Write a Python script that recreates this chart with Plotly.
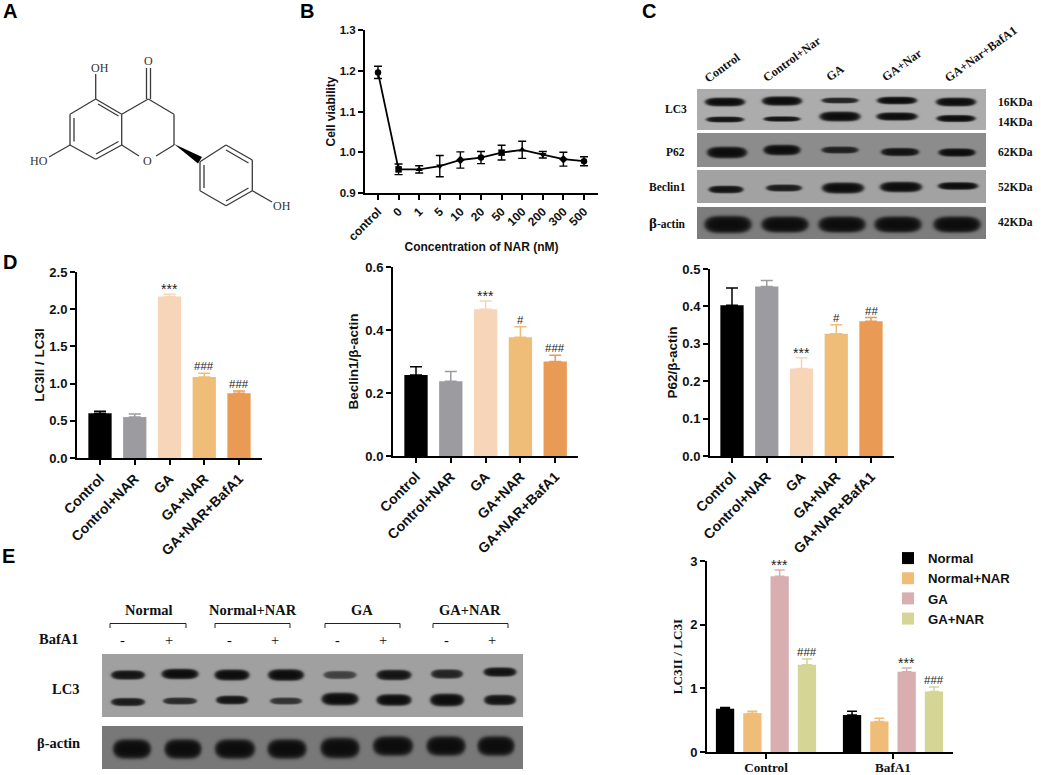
import numpy as np
import plotly.graph_objects as go

W, H = 1052, 775
SANS = "Liberation Sans"
SERIF = "Liberation Serif"

# ---------- data ----------
viability_cats = ["control", "0", "1", "5", "10", "20", "50", "100", "200", "300", "500"]
viability_vals = [1.196, 0.958, 0.958, 0.966, 0.981, 0.987, 0.999, 1.006, 0.994, 0.983, 0.978]
viability_errs = [0.015, 0.013, 0.009, 0.026, 0.020, 0.015, 0.018, 0.021, 0.008, 0.017, 0.011]
viability_syms = ["circle", "square", "triangle-up", "triangle-down", "diamond", "circle",
                  "square", "triangle-up", "triangle-down", "diamond", "circle"]

groups = ["Control", "Control+NAR", "GA", "GA+NAR", "GA+NAR+BafA1"]
group_colors = ["#000000", "#9c9ca0", "#f6d5b8", "#efbd77", "#e99a55"]

lc3_vals = [0.60, 0.55, 2.17, 1.09, 0.87]
lc3_errs = [0.03, 0.04, 0.03, 0.05, 0.03]
lc3_sig = ["", "", "***", "###", "###"]

beclin_vals = [0.257, 0.237, 0.466, 0.377, 0.300]
beclin_errs = [0.026, 0.031, 0.026, 0.033, 0.020]
beclin_sig = ["", "", "***", "#", "###"]

p62_vals = [0.403, 0.453, 0.234, 0.327, 0.360]
p62_errs = [0.046, 0.016, 0.029, 0.024, 0.010]
p62_sig = ["", "", "***", "#", "##"]

e_cats = ["Control", "BafA1"]
e_series = ["Normal", "Normal+NAR", "GA", "GA+NAR"]
e_colors = ["#000000", "#efbd77", "#d9aeb0", "#d5d596"]
e_vals = [[0.68, 0.58], [0.61, 0.48], [2.76, 1.26], [1.37, 0.95]]
e_errs = [[0.02, 0.06], [0.03, 0.05], [0.10, 0.06], [0.09, 0.07]]
e_sig = [["", ""], ["", ""], ["***", "***"], ["###", "###"]]

# Western-blot band readings: lane centre, row centre, length, thickness, strength
c_strips = [
    dict(box=(697, 89, 986, 130), bg=172, bands=[
        (724, 101, 39, 7.5, 1.0), (781, 100, 39, 8, 1.0), (839, 99.5, 36, 5, .85), (896, 99.5, 39, 6.5, 1.0), (955, 101, 39, 7.5, 1.0),
        (724, 118.5, 37, 5, .95), (781, 118, 36, 4.5, .95), (839, 115.5, 40, 8.5, 1.0), (896, 115.5, 40, 7, 1.0), (955, 117.5, 38, 6, 1.0)]),
    dict(box=(697, 133, 986, 167), bg=140, bands=[
        (726, 151.5, 39, 10, 1.0), (781, 149, 36, 9, 1.0), (839, 149, 36, 6, .85), (899, 151, 37, 7, .95), (956, 151.5, 36, 7, 1.0)]),
    dict(box=(697, 170, 986, 203), bg=162, bands=[
        (725, 188.5, 34, 6.5, .95), (783, 187, 35, 6, .9), (842, 187, 41, 9.5, 1.0), (900, 186, 41, 9, 1.0), (957, 185, 39, 6.5, 1.0)]),
    dict(box=(697, 207, 986, 239), bg=125, bands=[
        (727, 223.5, 46, 15, 1.0), (784, 223.5, 46, 14, 1.0), (841, 223.5, 46, 14, 1.0), (897, 223.5, 46, 14, 1.0), (956, 223.5, 46, 14, 1.0)]),
]
e_strips = [
    dict(box=(102, 654, 523, 717), bg=160, bands=[
        (127, 674, 33, 8, .95), (179, 673, 36, 9, 1.0), (231, 674, 34, 9.5, 1.0), (285, 674, 35, 10, 1.0),
        (339, 674, 32, 7, .65), (393, 674, 34, 9, .95), (446, 673, 31, 8, .85), (499, 671, 32, 8, .95),
        (127, 701, 33, 7, .9), (179, 700, 33, 6, .8), (231, 699, 31, 7.5, .95), (285, 700, 31, 6, .75),
        (339, 698, 36, 11, 1.0), (393, 699, 34, 10, 1.0), (446, 699, 33, 11, 1.0), (499, 699, 31, 9, .95)]),
    dict(box=(102, 726, 523, 769), bg=120, bands=[
        (131, 748, 37, 17, 1.0), (182, 748, 36, 17, 1.0), (234, 748, 39, 17, 1.0), (286, 748, 38, 17, 1.0),
        (339, 747, 38, 18, 1.0), (392, 745, 39, 17, 1.0), (445, 745, 38, 17, 1.0), (495, 745, 36, 17, 1.0)]),
]


def px_x(a, b):
    return [a / W, b / W]


def px_y(top, bottom):
    return [1 - bottom / H, 1 - top / H]


fig = go.Figure()
annotations = []
shapes = []


def note(x, y, text, size=12, family=SERIF, bold=True, angle=0, color="#111111",
         xref="x", yref="y", xanchor="center", yanchor="middle", yshift=0):
    annotations.append(dict(x=x, y=y, xref=xref, yref=yref, text=text, showarrow=False,
                            textangle=angle, xanchor=xanchor, yanchor=yanchor, yshift=yshift,
                            font=dict(family=family, size=size, color=color,
                                      weight=700 if bold else 400)))


def sig_note(x, y, text, xref, yref):
    star = text[0] == "*"
    note(x, y, text, 14 if star else 11.5, SANS, bold=False, color="#222222",
         xref=xref, yref=yref, yanchor="bottom", yshift=-5 if star else -1)


# ---------- pixel-space layer: blots, structure, free labels ----------
fig.update_layout(xaxis=dict(domain=[0, 1], range=[0, W], visible=False, fixedrange=True),
                  yaxis=dict(domain=[0, 1], range=[H, 0], visible=False, fixedrange=True))


def add_strip(strip):
    x0, y0, x1, y1 = strip["box"]
    xs = np.arange(x0, x1) + 0.5
    ys = np.arange(y0, y1) + 0.5
    xx, yy = np.meshgrid(xs, ys)
    z = np.full(xx.shape, float(strip["bg"]))
    for cx, cy, length, thick, strength in strip["bands"]:
        d = np.abs((xx - cx) / (length / 2)) ** 4 + np.abs((yy - cy) / (thick * 0.55)) ** 2
        a = strength / (1 + np.exp((d - 1) * 4.0))
        z = z * (1 - a) + 10 * a
    fig.add_trace(go.Heatmap(x=xs, y=ys, z=z, zmin=0, zmax=255, zsmooth="best", showscale=False,
                             colorscale=[[0, "#000000"], [1, "#ffffff"]], hoverinfo="skip",
                             xaxis="x", yaxis="y"))


for s in c_strips + e_strips:
    add_strip(s)

# naringenin skeletal formula
bond = dict(type="line", xref="x", yref="y", line=dict(color="#3a3a3a", width=1.3))
struct_bonds = [
    (95.7, 99, 121.7, 114.3), (121.7, 114.3, 121.7, 145), (121.7, 145, 95.7, 159.3),
    (95.7, 159.3, 70, 145), (70, 145, 70, 114.3), (70, 114.3, 95.7, 99),
    (98, 104, 118.5, 116), (96, 154, 118.5, 141.5), (74, 118, 74, 141.5),
    (121.7, 114.3, 148.3, 99), (148.3, 99, 174, 114.3), (174, 114.3, 174, 145),
    (174, 145, 156, 156), (121.7, 145, 139, 156),
    (146.5, 99, 146.5, 68), (150.5, 99, 150.5, 68), (95.7, 99, 95.7, 74),
    (70, 145, 49, 157),
    (200, 161.7, 226, 145), (226, 145, 252.3, 160), (252.3, 160, 252.3, 190.7),
    (252.3, 190.7, 226, 205.7), (226, 205.7, 200, 190.7), (200, 190.7, 200, 161.7),
    (226, 150, 248.5, 163), (248.5, 188, 226, 201), (204, 165, 204, 188),
    (252.3, 190.7, 272, 202),
]
for bx0, by0, bx1, by1 in struct_bonds:
    shapes.append({**bond, "x0": bx0, "y0": by0, "x1": bx1, "y1": by1})
shapes.append(dict(type="path", xref="x", yref="y", path="M174,144 L198,163.5 L202,157 Z",
                   fillcolor="#000000", line=dict(width=0)))
note(148.5, 61, "O", 12, bold=False, color="#333333")
note(100, 68, "OH", 12, bold=False, color="#333333")
note(39, 160.5, "HO", 12, bold=False, color="#333333")
note(147.5, 160.5, "O", 12, bold=False, color="#333333")
note(282, 206, "OH", 12, bold=False, color="#333333")

# panel letters
for letter, lx, ly in [("A", 10, 11), ("B", 307, 11), ("C", 649, 11), ("D", 10, 262), ("E", 8, 556)]:
    note(lx, ly, letter, 20, SANS, color="#000000")

# panel C labels
for t, lx, ly in [("Control", 722, 68), ("Control+Nar", 792, 59), ("GA", 835, 73),
                  ("GA+Nar", 902, 65), ("GA+Nar+BafA1", 981, 54)]:
    note(lx, ly, t, 12.2, angle=-36)
for t, lx, ly in [("LC3", 676, 109), ("P62", 675, 152), ("Beclin1", 667, 187)]:
    note(lx, ly, t, 11.5)
note(667, 223, "<span style='font-size:15px'>β</span>-actin", 11.5)
for t, ly in [("16KDa", 102), ("14KDa", 122), ("62KDa", 152), ("52KDa", 187), ("42KDa", 222)]:
    note(1015, ly, t, 11.5)

# panel E labels
for t, lx in [("Normal", 149), ("Normal+NAR", 253), ("GA", 362), ("GA+NAR", 470)]:
    note(lx, 610, t, 14.5)
for bl, br in [(110, 186), (215, 290), (325, 400), (433, 508)]:
    shapes.append(dict(type="path", xref="x", yref="y",
                       path=f"M{bl},628 V623.5 H{br} V628", line=dict(color="#222222", width=1)))
note(58, 639, "BafA1", 14.5)
note(65, 689, "LC3", 14.5)
note(58, 743, "β-actin", 14.5)
for sign, lx in zip(["-", "+", "-", "+", "-", "+", "-", "+"], [122, 169, 229, 275, 337, 383, 446, 492]):
    note(lx, 640, sign, 14.5, bold=False)


# ---------- chart helpers ----------
def y_axis(rng, dtick, top, bottom, left, right, anchor, title, tsize, standoff,
           tickfmt, title_family=SANS):
    return dict(domain=px_y(top, bottom), range=rng, dtick=dtick, tick0=0, anchor=anchor,
                showline=True, linecolor="#000000", linewidth=2, ticks="outside", ticklen=5,
                tickwidth=2, tickcolor="#000000", showgrid=False, zeroline=False,
                tickformat=tickfmt, fixedrange=True,
                tickfont=dict(family=SANS, size=tsize, color="#111111", weight=700),
                title=dict(text=title, standoff=standoff,
                           font=dict(family=title_family, size=13.5 if title_family == SANS else 13.2,
                                     color="#111111", weight=700)))


def x_axis(cats, rng, left, right, anchor, tsize, angle, family=SANS, title=None):
    d = dict(domain=px_x(left, right), range=rng, type="category", categoryorder="array",
             categoryarray=cats, anchor=anchor, showline=True, linecolor="#000000",
             linewidth=2, ticks="outside", ticklen=5, tickwidth=2, tickcolor="#000000",
             showgrid=False, zeroline=False, tickangle=angle, fixedrange=True,
             tickfont=dict(family=family, size=tsize, color="#111111", weight=700))
    if title:
        d["title"] = dict(text=title, standoff=0,
                          font=dict(family=SANS, size=12, color="#111111", weight=700))
    return d


def bar_panel(n, vals, errs, sig, box, ymax, dtick, title, fmt, centre0, step, standoff):
    left, top, right, bottom = box
    xa, ya = f"x{n}", f"y{n}"
    for cat, v, e, col, s in zip(groups, vals, errs, group_colors, sig):
        fig.add_trace(go.Bar(x=[cat], y=[v], width=0.67, marker=dict(color=col, line=dict(width=0)),
                             error_y=dict(type="data", array=[e], arrayminus=[0], symmetric=False,
                                          color=col, thickness=1.5, width=6),
                             showlegend=False, xaxis=xa, yaxis=ya, name=cat))
        if s:
            sig_note(cat, v + e, s, xa, ya)
    rng = [(left - centre0) / step, (right - centre0) / step]
    fig.update_layout({f"xaxis{n}": x_axis(groups, rng, left, right, ya, 14, -45),
                       f"yaxis{n}": y_axis([0, ymax], dtick, top, bottom, left, right, xa, title,
                                           13, standoff, fmt)})


# ---------- panel B ----------
fig.add_trace(go.Scatter(x=viability_cats, y=viability_vals, mode="lines+markers",
                         line=dict(color="#000000", width=1.8),
                         marker=dict(symbol=viability_syms, size=6.5, color="#000000"),
                         error_y=dict(type="data", array=viability_errs, color="#000000",
                                      thickness=1.4, width=4),
                         showlegend=False, xaxis="x2", yaxis="y2", name="Cell viability"))
fig.update_layout(
    xaxis2=x_axis(viability_cats, [-0.63, 10.68], 365, 598, "y2", 12, -45, title="Concentration of NAR (nM)"),
    yaxis2=y_axis([0.9, 1.3], 0.1, 30, 193, 365, 598, "x2", "Cell viability", 11.5, 2, ".1f"))
fig.layout.yaxis2.title.font.size = 12

# ---------- panel D ----------
bar_panel(3, lc3_vals, lc3_errs, lc3_sig, (77, 272, 262, 458), 2.5, 0.5, "LC3II / LC3I", ".1f", 100, 34.75, 2)
bar_panel(4, beclin_vals, beclin_errs, beclin_sig, (393, 267, 578, 456), 0.6, 0.2, "Beclin1/β-actin", ".1f", 416, 34.8, 4)
bar_panel(5, p62_vals, p62_errs, p62_sig, (710, 269, 894, 456), 0.5, 0.1, "P62/β-actin", ".1f", 732, 34.75, 2)

# ---------- panel E chart ----------
E_UNIT = 127.0
for i, (name, col, vals, errs, sigs) in enumerate(zip(e_series, e_colors, e_vals, e_errs, e_sig)):
    slot = 27.3 / E_UNIT
    bw = 18.3 / E_UNIT
    fig.add_trace(go.Bar(x=e_cats, y=vals, name=name, width=bw, offset=(i - 1.5) * slot - bw / 2,
                         marker=dict(color=col, line=dict(width=0)),
                         error_y=dict(type="data", array=errs, arrayminus=[0, 0], symmetric=False,
                                      color=col, thickness=1.5, width=5),
                         xaxis="x6", yaxis="y6", legend="legend"))
    for idx, (v, e, s) in enumerate(zip(vals, errs, sigs)):
        if s:
            sig_note(idx + (i - 1.5) * slot, v + e, s, "x6", "y6")
xaxis6 = x_axis(e_cats, [(707 - 766) / E_UNIT, (953 - 766) / E_UNIT], 707, 953, "y6", 13.2, 0, family=SERIF)
xaxis6["ticklabelstandoff"] = -3
fig.update_layout(
    xaxis6=xaxis6,
    yaxis6=y_axis([0, 3], 1, 561, 752, 707, 953, "x6", "LC3II / LC3I", 13, 5, "d", title_family=SERIF))

fig.update_layout(
    width=W, height=H, autosize=False, margin=dict(l=0, r=0, t=0, b=0, autoexpand=False),
    paper_bgcolor="#ffffff", plot_bgcolor="rgba(0,0,0,0)", barmode="overlay",
    shapes=shapes, annotations=annotations,
    legend=dict(x=888 / W, y=1 - 543 / H, xanchor="left", yanchor="top", bgcolor="rgba(0,0,0,0)",
                font=dict(family=SANS, size=13.2, color="#111111", weight=700),
                traceorder="normal", tracegroupgap=0, itemclick=False, itemdoubleclick=False),
)

fig.write_html("out.html", config={"displayModeBar": False},
               post_script="document.body.style.margin='0';document.body.style.overflow='hidden';")
